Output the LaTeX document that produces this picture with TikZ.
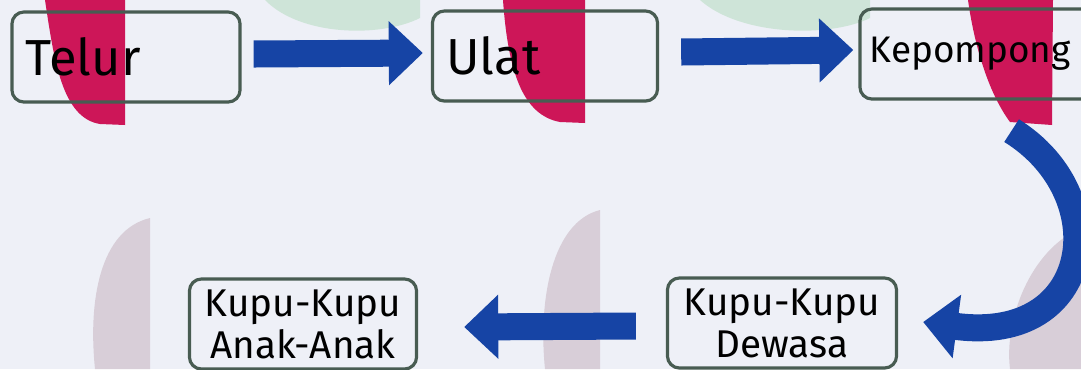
\documentclass[tikz,border=0pt]{standalone}
\usepackage{fontspec}
\setmainfont{Fira Sans}
\usetikzlibrary{arrows.meta,positioning}
\definecolor{paper}{RGB}{238,240,247}
\definecolor{boxline}{RGB}{72,92,82}
\definecolor{flowblue}{RGB}{22,68,165}
\definecolor{crimson}{RGB}{205,22,88}
\definecolor{mint}{RGB}{206,228,216}
\definecolor{mauve}{RGB}{216,206,216}
\begin{document}
\begin{tikzpicture}[x=0.01cm,y=-0.01cm,
    stage/.style={draw=boxline,line width=0.9pt,rounded corners=0.12cm,
      inner xsep=0.14cm,inner ysep=0.03cm,minimum height=0.9cm,
      text width=2.0cm,align=left,font=\Large},
    pair/.style={stage,align=center,font=\fontsize{11}{12}\selectfont},
    flow/.style={draw=flowblue,line width=0.27cm,
      -{Triangle[length=0.34cm,width=0.62cm]}}]
    \useasboundingbox[fill=paper] (0,0) rectangle (1081,369);
    %% Background blobs
    \fill[mint] (265,0) -- (420,0) -- (420,18) .. controls (380,38) and (300,36) .. (265,0) -- cycle;
    \fill[mint] (700,0) -- (870,0) -- (870,18) .. controls (830,38) and (740,36) .. (700,0) -- cycle;
    \fill[mauve] (150,218) .. controls (100,230) and (88,300) .. (95,369) -- (150,369) -- cycle;
    \fill[mauve] (600,210) .. controls (552,222) and (538,300) .. (545,369) -- (600,369) -- cycle;
    \fill[mauve] (1081,228) .. controls (1030,250) and (1004,320) .. (1010,369) -- (1081,369) -- cycle;
    \fill[crimson] (45,0) -- (125,0) -- (125,125) -- (100,124) .. controls (62,118) and (54,60) .. (45,0) -- cycle;
    \fill[crimson] (503,0) -- (585,0) -- (585,123) -- (560,122) .. controls (522,115) and (508,70) .. (503,0) -- cycle;
    \fill[crimson] (968,0) -- (1053,0) -- (1052,125) -- (1010,122) .. controls (990,95) and (975,50) .. (968,0) -- cycle;
    %% Stages
    \node[stage,minimum width=2.28cm,text width=2.0cm] (telur) at (126,57) {Telur};
    \node[stage,minimum width=2.25cm,text width=1.97cm] (ulat) at (545,56) {Ulat};
    \node[stage,minimum width=2.4cm,text width=2.2cm,inner xsep=0.1cm,
      font=\fontsize{10.5}{12}\selectfont] (kep) at (980,54) {Kepompong};
    \node[pair,minimum width=2.29cm,text width=2.01cm] (dewasa) at (782,323) {Kupu-Kupu\\Dewasa};
    \node[pair,minimum width=2.27cm,text width=1.99cm] (anak) at (303,324) {Kupu-Kupu\\Anak-Anak};
    %% Arrows
    \draw[flow] ([xshift=0.12cm,yshift=0.03cm]telur.east) -- ([xshift=-0.08cm,yshift=0.03cm]ulat.west);
    \draw[flow] ([xshift=0.22cm,yshift=0.04cm]ulat.east) -- ([xshift=-0.05cm,yshift=0.04cm]kep.west);
    \draw[flow] ([xshift=-0.9cm,yshift=-0.3cm]kep.south east) .. controls (1115,195) and (1095,345) .. ([xshift=0.25cm,yshift=0.01cm]dewasa.east);
    \draw[flow] ([xshift=-0.30cm,yshift=-0.03cm]dewasa.west) -- ([xshift=0.46cm,yshift=-0.03cm]anak.east);
\end{tikzpicture}
\end{document}
